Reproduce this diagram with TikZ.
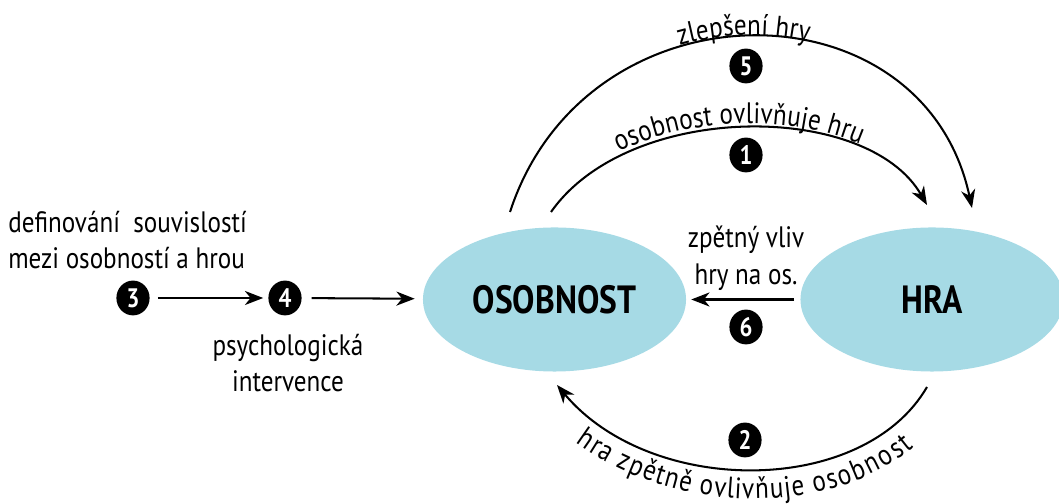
\documentclass[tikz,border=0pt]{standalone}
\usepackage{fontspec}
\setmainfont{PT Sans}[FakeStretch=0.85]
\usetikzlibrary{shapes.geometric,arrows.meta,decorations.text}
\definecolor{pale}{RGB}{166,218,229}
\newcommand{\lbl}{\fontsize{21}{26}\selectfont}

\begin{document}
\begin{tikzpicture}[x=0.025cm,y=0.025cm,
    blob/.style={ellipse,fill=pale,inner sep=0pt,minimum width=6.575cm,minimum height=3.6cm,
      font=\fontsize{28}{28}\selectfont\bfseries},
    num/.style={ellipse,fill=black,inner sep=0pt,minimum width=0.83cm,minimum height=0.87cm,text=white,
      font=\fontsize{19}{19}\selectfont\bfseries},
    arr/.style={line width=1.45pt,-{Stealth[length=13pt,width=10pt,inset=4pt]}},
    txt/.style={font=\lbl,align=center,inner sep=0pt}]
    \useasboundingbox (0,0) rectangle (1059,504);

    % the two sides
    \node (osob) at (554.5,204.5) [blob] {OSOBNOST};
    \node (hra) at (932,204.5) [blob] {HRA};

    % numbered steps
    \node (n3) at (133,206) [num] {3};
    \node (n4) at (285,206) [num] {4};
    \node (n5) at (746,438) [num] {5};
    \node (n1) at (746,349) [num] {1};
    \node (n6) at (746,177) [num] {6};
    \node (n2) at (745,64) [num] {2};

    \node (def) at (8,264) [txt,anchor=west,align=left] {definování\ \ souvislostí\\mezi osobností a hrou};
    \node (psy) at (288,141) [txt] {psychologická\\intervence};
    \node (zpet) at (746,246) [txt] {zpětný vliv\\hry na os.};

    \draw[arr,shorten <=5.7pt,shorten >=3.5pt] (n3) -- (n4);
    \draw[arr,shorten <=7pt,shorten >=5.7pt] (n4) -- (osob);
    \draw[arr,shorten <=4.3pt,shorten >=3.5pt] (hra) -- (osob);

    % curved connectors
    \coordinate (a1) at (551,292);
    \coordinate (b1) at (927,299);
    \coordinate (a5) at (510,292);
    \coordinate (b5) at (972,296);
    \coordinate (a2) at (927,117);
    \coordinate (b2) at (557,119);

    \draw[arr] (a1) .. controls (629,403) and (867,403) .. (b1);
    \draw[arr] (a5) .. controls (586,525) and (923,525) .. (b5);
    \draw[arr] (a2) .. controls (863,7) and (651,7) .. (b2);

    \path[decorate,decoration={text along path,text={|\lbl|osobnost ovlivňuje hru},
      text align=center,raise=3pt}] (a1) .. controls (629,403) and (867,403) .. (b1);
    \path[decorate,decoration={text along path,text={|\lbl|zlepšení hry},
      text align=center,raise=1pt}] (a5) .. controls (586,525) and (923,525) .. (b5);
    \path[decorate,decoration={text along path,text={|\lbl|hra zpětně ovlivňuje osobnost},
      text align=center,raise=-21pt}] (b2) .. controls (651,7) and (863,7) .. (a2);
\end{tikzpicture}
\end{document}
